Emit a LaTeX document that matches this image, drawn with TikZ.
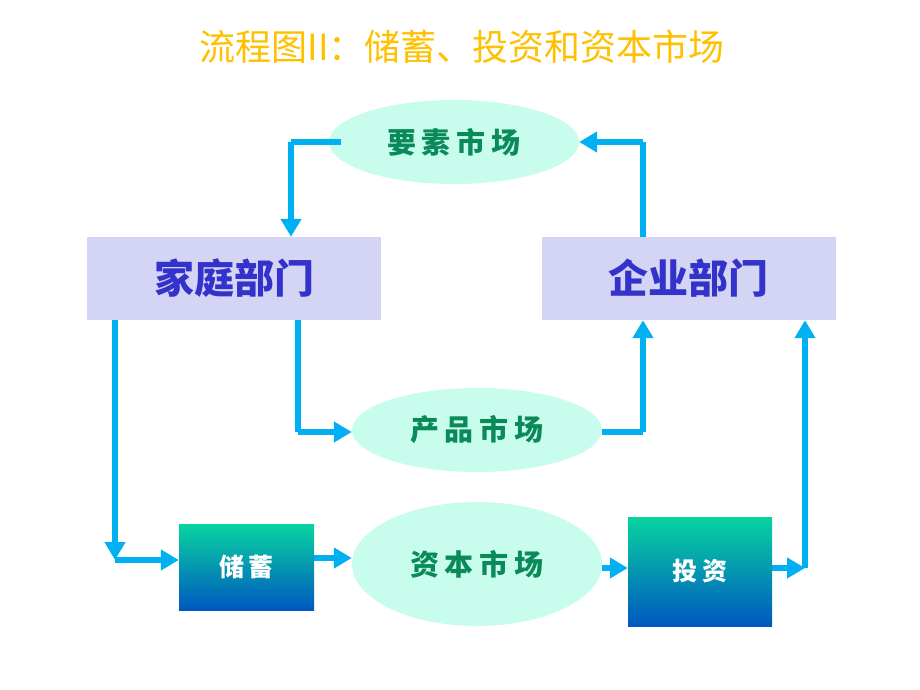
\documentclass[tikz,border=0pt]{standalone}
\usepackage{fontspec}
\newfontfamily\cjk{Noto Sans CJK SC}
\usetikzlibrary{arrows.meta,shapes.geometric}
\definecolor{arrowc}{HTML}{00B0F0}
\definecolor{ellfill}{HTML}{C8FCEC}
\definecolor{elltext}{HTML}{0A8A5A}
\definecolor{boxfill}{HTML}{D4D4F4}
\definecolor{boxtext}{HTML}{3333CC}
\definecolor{titlec}{HTML}{FFC000}
\definecolor{gtop}{HTML}{08D4A0}
\definecolor{gmid}{HTML}{22D8E0}
\definecolor{gbot}{HTML}{0058C0}
\newcommand\gap{\hspace{6pt}}
\tikzset{
  mkt/.style={ellipse, fill=ellfill, draw=none, inner sep=0pt,
    font=\cjk\bfseries\fontsize{29}{31}\selectfont, text=elltext},
  sector/.style={rectangle, fill=boxfill, draw=none, minimum width=294pt, minimum height=83pt,
    font=\cjk\bfseries\fontsize{40}{44}\selectfont, text=boxtext},
  flowbox/.style={rectangle, draw=none, top color=gtop, middle color=gmid, bottom color=gbot,
    font=\cjk\bfseries\fontsize{25}{27}\selectfont, text=white},
  conn/.style={draw=arrowc, line width=5.5pt, -{Triangle[length=18pt,width=20pt]}},
  plain/.style={draw=arrowc, line width=5.5pt},
}
\begin{document}
\begin{tikzpicture}[x=1pt,y=-1pt]
\useasboundingbox (0,0) rectangle (920,690);
\node[font=\cjk\fontsize{36}{40}\selectfont, text=titlec] (title) at (462,47) {流程图II：储蓄、投资和资本市场};

\node[mkt, minimum width=250pt, minimum height=84pt] (factor) at (454,142) {要\gap 素\gap 市\gap 场};
\node[mkt, minimum width=250pt, minimum height=84pt] (product) at (477,430) {产\gap 品\gap 市\gap 场};
\node[mkt, minimum width=250pt, minimum height=124pt] (capital) at (477,564) {资\gap 本\gap 市\gap 场};

\node[sector] (home) at (234,278.5) {家庭部门};
\node[sector] (firm) at (688.5,278.5) {企业部门};

\node[flowbox, minimum width=135pt, minimum height=86pt] (save) at (246.5,567) {储\,蓄};
\node[flowbox, minimum width=144pt, minimum height=109pt] (invest) at (700,571.5) {投\,资};

\coordinate (c1) at (291,142);
\coordinate (c2) at (643,142);
\coordinate (c3) at (298,432);
\coordinate (c4) at (643,432);
\coordinate (c5) at (115,560);
\coordinate (c6) at (805,568);

% factor market -> households
\draw[plain] ([xshift=12pt]factor.west |- c1) -- (c1);
\draw[conn] (c1) -- (c1 |- home.north);
% firms -> factor market
\draw[plain] (c2 |- firm.north) -- (c2);
\draw[conn] (c2) -- (factor.east);
% households -> product market
\draw[plain] (c3 |- home.south) -- (c3);
\draw[conn] (c3) -- (product.west |- c3);
% product market -> firms
\draw[plain] (product.east |- c4) -- (c4);
\draw[conn] (c4) -- (c4 |- firm.south);
% households -> saving
\draw[conn] (c5 |- home.south) -- (c5);
\draw[conn] (c5) -- (save.west |- c5);
% saving -> capital market
\draw[conn] (save.east |- 0,558) -- (capital.west |- 0,558);
% capital market -> investment
\draw[conn] (capital.east |- c6) -- (invest.west |- c6);
% investment -> firms
\draw[conn] (invest.east |- c6) -- (c6);
\draw[conn] (c6) -- (c6 |- firm.south);
\end{tikzpicture}
\end{document}
